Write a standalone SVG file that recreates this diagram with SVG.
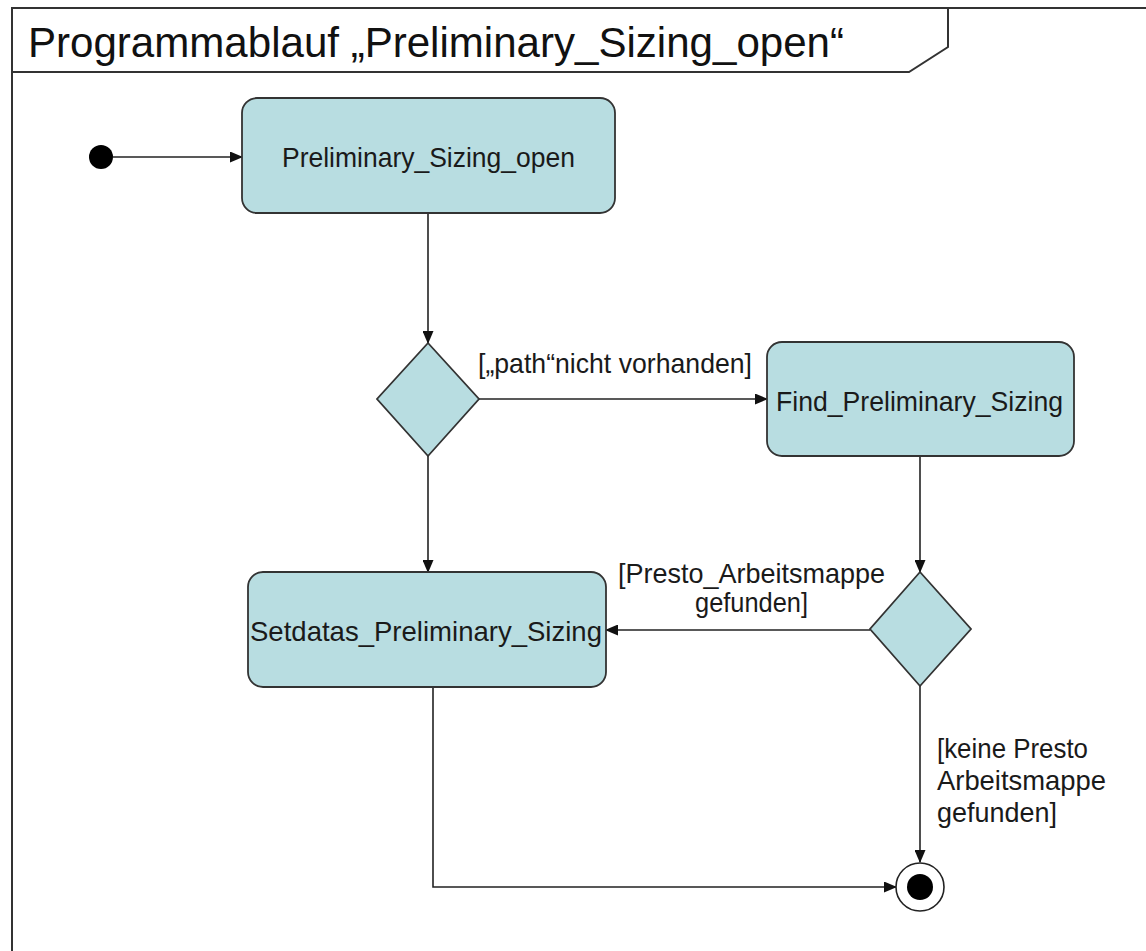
<svg xmlns="http://www.w3.org/2000/svg" width="1146" height="951" viewBox="0 0 1146 951">
<defs>
<style>
.frame{fill:none;stroke:#333;stroke-width:2}
.node{fill:#b8dde1;stroke:#333;stroke-width:1.8}
.edge{fill:none;stroke:#222;stroke-width:1.6}
.t{font-family:"Liberation Sans",Arial,sans-serif;font-size:28px;fill:#1a1a1a}
.title{font-family:"Liberation Sans",Arial,sans-serif;font-size:42px;fill:#111}
</style>
<marker id="arr" markerWidth="13" markerHeight="11" refX="12" refY="5.5" orient="auto" markerUnits="userSpaceOnUse">
<path d="M0,0 L13,5.5 L0,11 Z" fill="#111"/>
</marker>
</defs>
<rect width="1146" height="951" fill="#fff"/>
<g id="frame">
<path class="frame" d="M12,951 L12,8 L1146,8"/>
<path class="frame" d="M12,72 L909,72 L948,47 L948,8"/>
<text class="title" x="28" y="57" textLength="816" lengthAdjust="spacingAndGlyphs">Programmablauf „Preliminary_Sizing_open“</text>
</g>
<g id="connectors">
<path class="edge" d="M113,157 L242,157" marker-end="url(#arr)"/>
<path class="edge" d="M428,213 L428,343" marker-end="url(#arr)"/>
<path class="edge" d="M479,399 L767,399" marker-end="url(#arr)"/>
<path class="edge" d="M920,456 L920,572" marker-end="url(#arr)"/>
<path class="edge" d="M428,456 L428,572" marker-end="url(#arr)"/>
<path class="edge" d="M870,630 L606,630" marker-end="url(#arr)"/>
<path class="edge" d="M920,686 L920,862" marker-end="url(#arr)"/>
<path class="edge" d="M433,687 L433,887 L896,887" marker-end="url(#arr)"/>
<text class="t" x="478" y="373" textLength="274" lengthAdjust="spacingAndGlyphs">[„path“nicht vorhanden]</text>
<text class="t" x="618" y="583" textLength="267" lengthAdjust="spacingAndGlyphs">[Presto_Arbeitsmappe</text>
<text class="t" x="695" y="612" textLength="113" lengthAdjust="spacingAndGlyphs">gefunden]</text>
<text class="t" x="937" y="758" textLength="151" lengthAdjust="spacingAndGlyphs">[keine Presto</text>
<text class="t" x="937" y="790" textLength="169" lengthAdjust="spacingAndGlyphs">Arbeitsmappe</text>
<text class="t" x="937" y="822" textLength="120" lengthAdjust="spacingAndGlyphs">gefunden]</text>
</g>
<g id="start">
<circle cx="101" cy="157" r="12" fill="#000"/>
</g>
<g id="preliminary_sizing_open">
<rect class="node" x="242" y="98" width="373" height="115" rx="15"/>
<text class="t" x="282" y="167" textLength="293" lengthAdjust="spacingAndGlyphs">Preliminary_Sizing_open</text>
</g>
<g id="decision1">
<polygon class="node" points="428,343 479,399 428,456 377,399"/>
</g>
<g id="find_preliminary_sizing">
<rect class="node" x="767" y="342" width="307" height="114" rx="15"/>
<text class="t" x="776" y="411" textLength="287" lengthAdjust="spacingAndGlyphs">Find_Preliminary_Sizing</text>
</g>
<g id="decision2">
<polygon class="node" points="920,572 971,629 920,686 870,629"/>
</g>
<g id="setdatas_preliminary_sizing">
<rect class="node" x="248" y="572" width="358" height="115" rx="15"/>
<text class="t" x="250" y="641" textLength="352" lengthAdjust="spacingAndGlyphs">Setdatas_Preliminary_Sizing</text>
</g>
<g id="end">
<circle cx="920" cy="887" r="24" fill="#fff" stroke="#222" stroke-width="1.6"/>
<circle cx="920" cy="887" r="13" fill="#000"/>
</g>
</svg>
